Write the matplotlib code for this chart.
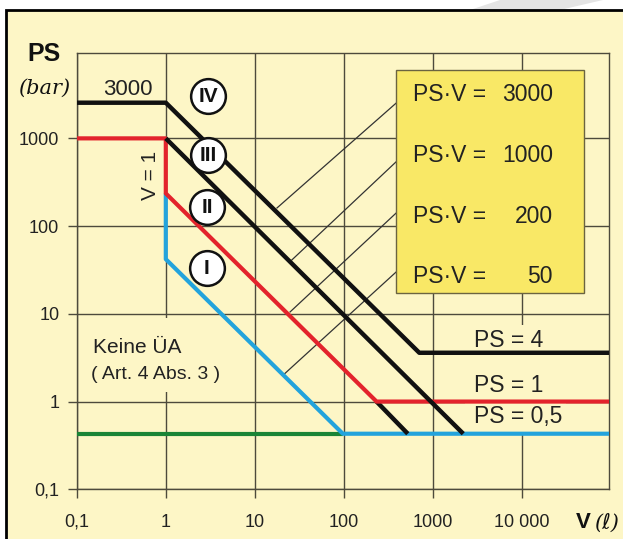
import matplotlib
matplotlib.use("Agg")
import matplotlib.pyplot as plt
from matplotlib.patches import Rectangle, Polygon

plt.rcParams['font.family'] = ['Liberation Sans', 'DejaVu Sans']

# category boundaries (V in litres, PS in bar)
v_iv = [0.1, 1, 700, 1e5]
ps_iv = [2550, 2550, 3.6, 3.6]
v_iii = [1, 2180]
ps_iii = [1000, 0.43]
v_ii = [0.1, 1, 1, 232, 1e5]
ps_ii = [1000, 1000, 236, 1, 1]
v_ii_low = [232, 520]
ps_ii_low = [1, 0.43]
v_i = [1, 1, 97, 1e5]
ps_i = [236, 42, 0.43, 0.43]
v_none = [0.1, 97]
ps_none = [0.43, 0.43]

# leader lines from the PS*V box to the curves
lead_v0 = [385, 385, 385, 385]
lead_ps0 = [2525, 541, 141, 30]
lead_v1 = [17.7, 25.9, 24.8, 20.7]
lead_ps1 = [161, 41, 10.5, 2.0]

cat_names = ['IV', 'III', 'II', 'I']
cat_v = [2.98, 2.98, 2.93, 2.89]
cat_ps = [3030, 646, 165, 33]

box_labels = ['3000', '1000', '200', '50']
ps_labels = ['PS = 4', 'PS = 1', 'PS = 0,5']

xticks = [0.1, 1, 10, 100, 1000, 10000]
xlabels = ['0,1', '1', '10', '100', '1000', '10 000']
yticks = [0.1, 1, 10, 100, 1000]
ylabels = ['0,1', '1', '10', '100', '1000']

bg = '#FDF6C6'
gridc = '#4d4a3c'

fig = plt.figure(figsize=(6.23, 5.39), dpi=100, facecolor='white')
fig.patches.append(Polygon([[500/623, 1], [603/623, 1], [560/623, 529/539], [470/623, 529/539]],
                           closed=True, transform=fig.transFigure, facecolor='#e4e4e4',
                           edgecolor='none', zorder=-2))
fig.patches.append(Rectangle((6/623, -0.02), 1.1, 529/539 + 0.02, transform=fig.transFigure,
                             facecolor=bg, edgecolor='black', lw=2, zorder=-1))

ax = fig.add_axes([76.7/623, 1 - 489.3/539, 532.6/623, 436.3/539])
ax.set_facecolor(bg)
ax.set_xscale('log')
ax.set_yscale('log')
ax.set_xlim(0.1, 95000)
ax.set_ylim(0.1, 9400)
ax.minorticks_off()
ax.set_xticks(xticks)
ax.set_xticklabels(xlabels)
ax.set_yticks(yticks)
ax.set_yticklabels(ylabels)
ax.tick_params(direction='out', length=6.5, width=1, color=gridc, labelsize=13,
               labelcolor='#222222')
ax.tick_params(axis='x', pad=11)
ax.tick_params(axis='y', pad=6)
ax.grid(True, color=gridc, lw=1)
ax.set_axisbelow(True)
for s in ax.spines.values():
    s.set_color(gridc)
    s.set_linewidth(1)

# cover the grid behind the text blocks
ax.add_patch(Rectangle((0.016, 0.223), 0.28, 0.17, transform=ax.transAxes,
                       facecolor=bg, edgecolor='none', zorder=1.5))
ax.add_patch(Rectangle((0.729, 0.131), 0.19, 0.246, transform=ax.transAxes,
                       facecolor=bg, edgecolor='none', zorder=1.5))

for i in range(len(lead_v0)):
    ax.plot([lead_v0[i], lead_v1[i]], [lead_ps0[i], lead_ps1[i]], color='#333333',
            lw=0.9, zorder=2)

ax.plot(v_none, ps_none, color='#1A8436', lw=3, solid_capstyle='butt', zorder=3)
ax.plot(v_i, ps_i, color='#23A3DC', lw=3, solid_capstyle='butt', zorder=3.2)
ax.plot(v_ii, ps_ii, color='#E3232C', lw=3, solid_capstyle='butt', zorder=3.4)
ax.plot(v_ii_low, ps_ii_low, color='#111111', lw=3.2, solid_capstyle='butt', zorder=3.3)
ax.plot(v_iii, ps_iii, color='#111111', lw=3.2, solid_capstyle='butt', zorder=3.5)
ax.plot(v_iv, ps_iv, color='#111111', lw=3.2, solid_capstyle='butt', zorder=3.5)

# yellow box with the PS*V values
ax.add_patch(Rectangle((0.599, 0.449), 0.3535, 0.512, transform=ax.transAxes,
                       facecolor='#F9E866', edgecolor='#6b6440', lw=1, zorder=4))
box_y = [0.904, 0.764, 0.625, 0.487]
for lab, yy in zip(box_labels, box_y):
    ax.text(0.631, yy, 'PS·V =', transform=ax.transAxes, fontsize=16.5, color='#222222',
            ha='left', va='center', zorder=5)
    ax.text(0.894, yy, lab, transform=ax.transAxes, fontsize=16.5, color='#222222',
            ha='right', va='center', zorder=5)

for lab, yy in zip(ps_labels, [0.3406, 0.239, 0.166]):
    ax.text(0.746, yy, lab, transform=ax.transAxes, fontsize=16.5, color='#222222',
            ha='left', va='center', zorder=5)

# category circles
ax.scatter(cat_v, cat_ps, s=25**2, facecolor='white', edgecolor='#111111', lw=1.8, zorder=6)
for name, cv, cp in zip(cat_names, cat_v, cat_ps):
    ax.text(cv, cp, name, fontsize=15, fontweight='bold', ha='center', va='center',
            color='#111111', zorder=7)

ax.text(0.38, 3650, '3000', fontsize=16, ha='center', va='center', color='#222222')
ax.text(0.68, 382, 'V = 1', fontsize=15, rotation=90, ha='center', va='center',
        color='#222222', zorder=5)
ax.text(0.0308, 0.326, 'Keine ÜA', transform=ax.transAxes, fontsize=15, ha='left',
        va='center', color='#222222', zorder=5)
ax.text(0.0268, 0.264, '( Art. 4 Abs. 3 )', transform=ax.transAxes, fontsize=14,
        ha='left', va='center', color='#222222', zorder=5)

fig.text(44/623, 1 - 54/539, 'PS', fontsize=18, fontweight='bold', ha='center',
         va='center', color='#111111')
fig.text(44/623, 1 - 88/539, '(bar)', fontsize=15, style='italic', ha='center',
         va='center', color='#111111', family=['DejaVu Serif', 'DejaVu Sans'])
fig.text(583/623, 1 - 523/539, 'V', fontsize=16, fontweight='bold', ha='center',
         va='center', color='#111111')
fig.text(594/623, 1 - 523/539, '(ℓ)', fontsize=15, style='italic', ha='left',
         va='center', color='#111111', family=['DejaVu Serif', 'DejaVu Sans'])

fig.savefig('out.png', dpi=100, facecolor=fig.get_facecolor())
